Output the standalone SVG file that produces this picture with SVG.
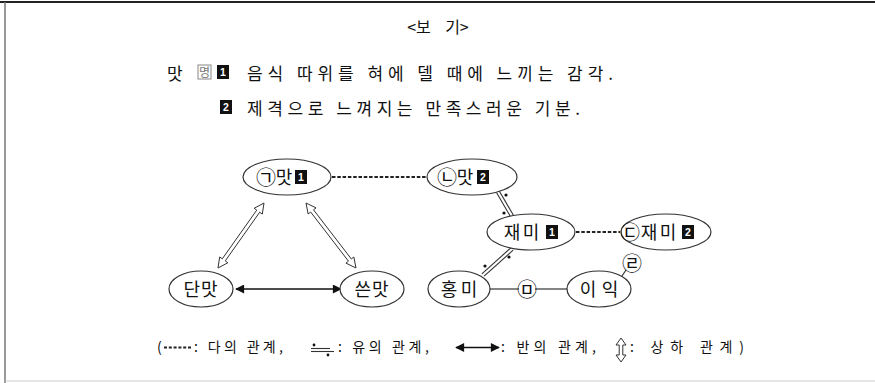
<svg xmlns="http://www.w3.org/2000/svg" width="875" height="383" viewBox="0 0 875 383">
<style>
text { font-family: "Noto Sans CJK KR", "Noto Sans", sans-serif; fill: #111; font-weight: 400; }
.t { font-size: 17px; }
.n { font-size: 18px; }
.c { font-size: 20px; }
.mid { text-anchor: middle; }
.leg { font-size: 14px; }
.node ellipse { fill: #fff; stroke: #333; stroke-width: 1.2; }
.box { fill: #111; }
.num { font-family: "Liberation Sans", sans-serif; font-size: 10.5px; font-weight: bold; fill: #fff; text-anchor: middle; }
.dash { stroke: #222; stroke-width: 2.2; stroke-dasharray: 3.5 1.8; fill: none; }
.thin { stroke: #333; stroke-width: 1.2; fill: none; }
.syn { stroke: #333; stroke-width: 1.1; fill: none; }
.hollow { fill: #fff; stroke: #333; stroke-width: 1; }
.dot { fill: #111; }
.blk { stroke: #111; stroke-width: 1.6; fill: none; marker-start: url(#ah); marker-end: url(#ah); }
</style>
<defs>
<marker id="ah" viewBox="0 0 10 10" refX="9" refY="5" markerWidth="11" markerHeight="9" markerUnits="userSpaceOnUse" orient="auto-start-reverse">
<path d="M0,0 L10,5 L0,10 z" fill="#111"/>
</marker>
</defs>

<g id="frame">
<line x1="0" y1="2" x2="875" y2="2" stroke="#222" stroke-width="2"/>
<line x1="5" y1="2" x2="5" y2="383" stroke="#777" stroke-width="1.5"/>
<line x1="5" y1="381" x2="875" y2="381" stroke="#ccc" stroke-width="1"/>
</g>

<g id="title">
<text x="438" y="33" font-size="16" text-anchor="middle" xml:space="preserve">&lt;보    기&gt;</text>
</g>

<g id="definition">
<text x="167" y="80" class="t">맛</text>
<rect x="198" y="65" width="13" height="14" fill="none" stroke="#888" stroke-width="1"/>
<text x="204.5" y="76.5" font-size="12" text-anchor="middle" style="fill:#777">명</text>
<rect x="217" y="65" width="12" height="14" class="box"/>
<text x="223" y="76" class="num">1</text>
<text x="247" y="80" class="t" textLength="366" lengthAdjust="spacing">음식 따위를 혀에 델 때에 느끼는 감각.</text>
<rect x="220" y="100" width="12" height="14" class="box"/>
<text x="226" y="111" class="num">2</text>
<text x="247" y="115" class="t" textLength="333" lengthAdjust="spacing">제격으로 느껴지는 만족스러운 기분.</text>
</g>

<g id="connectors">
<line x1="332" y1="177" x2="426" y2="177" class="dash"/>
<line x1="576" y1="232" x2="620" y2="232" class="dash"/>
<polygon class="hollow" points="218,268 227.86,262.73 225.25,260.88 259.69,212.20 262.30,214.05 264,203 254.14,208.27 256.75,210.12 222.31,258.80 219.70,256.95"/>
<polygon class="hollow" points="356,268 353.87,257.02 351.33,258.97 313.53,209.83 316.07,207.88 306,203 308.14,213.98 310.67,212.03 348.47,261.17 345.94,263.12"/>
<line x1="236" y1="289" x2="341" y2="289" class="blk"/>
<line x1="499.4" y1="191.2" x2="513.4" y2="215.2" class="syn"/>
<line x1="496.6" y1="192.8" x2="510.6" y2="216.8" class="syn"/>
<circle cx="506" cy="195" r="1.6" class="dot"/>
<circle cx="504" cy="213" r="1.6" class="dot"/>
<line x1="513.1" y1="250.2" x2="484.1" y2="276.2" class="syn"/>
<line x1="510.9" y1="247.8" x2="481.9" y2="273.8" class="syn"/>
<circle cx="509" cy="257" r="1.6" class="dot"/>
<circle cx="485" cy="266" r="1.6" class="dot"/>
<line x1="490" y1="289" x2="519" y2="289" class="thin"/>
<line x1="535" y1="289" x2="567" y2="289" class="thin"/>
<line x1="622" y1="276" x2="626" y2="270" class="thin"/>
</g>

<g id="n1" class="node">
<ellipse cx="287" cy="177" rx="44" ry="18"/>
<text y="184.5" class="c mid" x="266">㉠</text>
<text y="184" class="n mid" x="284">맛</text>
<rect x="295" y="170" width="12" height="14" class="box"/>
<text x="301" y="181" class="num">1</text>
</g>
<g id="n2" class="node">
<ellipse cx="472" cy="177" rx="45" ry="18"/>
<text y="184.5" class="c mid" x="447">㉡</text>
<text y="184" class="n mid" x="465">맛</text>
<rect x="477" y="170" width="12" height="14" class="box"/>
<text x="483" y="181" class="num">2</text>
</g>
<g id="n3" class="node">
<ellipse cx="531" cy="232" rx="44" ry="18"/>
<text y="239" class="n mid" x="512">재</text>
<text y="239" class="n mid" x="531">미</text>
<rect x="546" y="225" width="12" height="14" class="box"/>
<text x="552" y="236" class="num">1</text>
</g>
<g id="n4" class="node">
<ellipse cx="666" cy="232" rx="45" ry="18"/>
<text y="239.5" class="c mid" x="630">㉢</text>
<text y="239" class="n mid" x="649">재</text>
<text y="239" class="n mid" x="668">미</text>
<rect x="682" y="225" width="12" height="14" class="box"/>
<text x="688" y="236" class="num">2</text>
</g>
<g id="n5" class="node">
<ellipse cx="201" cy="289" rx="32" ry="18"/>
<text x="201" y="296" class="n mid" letter-spacing="1">단맛</text>
</g>
<g id="n6" class="node">
<ellipse cx="372" cy="289" rx="32" ry="18"/>
<text x="372" y="296" class="n mid" letter-spacing="1">쓴맛</text>
</g>
<g id="n7" class="node">
<ellipse cx="459" cy="289" rx="31" ry="18"/>
<text y="296" class="n mid" x="449">홍</text>
<text y="296" class="n mid" x="469">미</text>
</g>
<g id="n8" class="node">
<ellipse cx="599" cy="289" rx="32" ry="18"/>
<text y="296" class="n mid" x="588">이</text>
<text y="296" class="n mid" x="610">익</text>
</g>
<g id="m1">
<text x="527" y="296.5" class="c mid">㉤</text>
</g>
<g id="m2">
<text x="632" y="270.5" class="c mid">㉣</text>
</g>

<g id="legend">
<text x="157" y="352" class="leg">(</text>
<line x1="164" y1="347.5" x2="191" y2="347.5" class="dash" style="stroke-width:1.8;stroke-dasharray:3 1.8"/>
<text x="194" y="352" class="leg" textLength="89" lengthAdjust="spacing">: 다의 관계,</text>
<circle cx="314" cy="345" r="1.4" class="dot"/>
<line x1="311" y1="348.5" x2="330" y2="348.5" class="syn"/>
<line x1="311" y1="351.5" x2="334" y2="351.5" class="syn"/>
<circle cx="328" cy="355" r="1.4" class="dot"/>
<text x="338" y="352" class="leg" textLength="91" lengthAdjust="spacing">: 유의 관계,</text>
<line x1="456" y1="347.5" x2="499" y2="347.5" class="blk"/>
<text x="501" y="352" class="leg" textLength="95" lengthAdjust="spacing">: 반의 관계,</text>
<polygon class="hollow" points="621,338 626,345 622.8,345 622.8,355 626,355 621,362 616,355 619.2,355 619.2,345 616,345"/>
<text x="630" y="352" class="leg" textLength="114" lengthAdjust="spacing">: 상하 관계)</text>
</g>
</svg>
